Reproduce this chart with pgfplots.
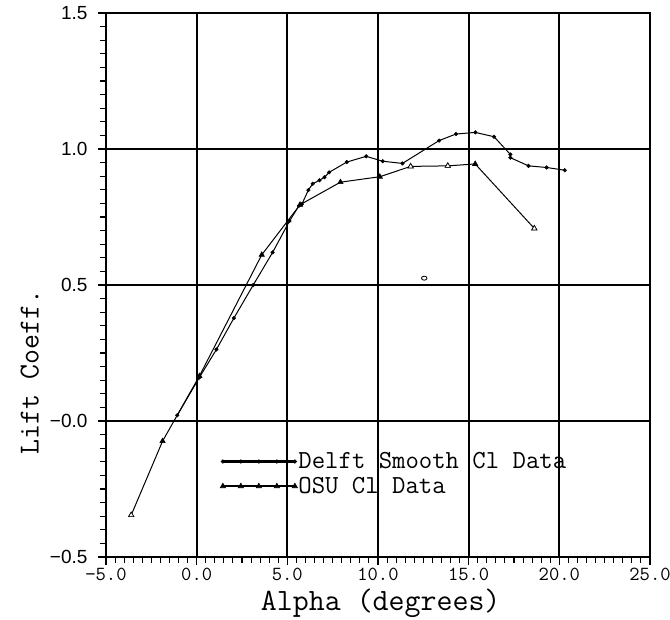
\documentclass[border=0pt]{standalone}
\usepackage{fontspec}
\usepackage{pgfplots}
\pgfplotsset{compat=1.18}
\newfontfamily\ysans{Liberation Sans}
\pgfplotstableread{
x y
-1.07 0.021
0.15 0.160
1.09 0.263
2.05 0.378
3.12 0.500
4.19 0.620
5.12 0.735
5.65 0.792
5.80 0.797
6.16 0.849
6.40 0.872
6.77 0.885
7.05 0.896
7.30 0.914
8.28 0.952
9.35 0.973
10.26 0.955
11.35 0.947
13.37 1.031
14.30 1.055
15.37 1.061
16.40 1.045
17.30 0.980
17.30 0.968
18.30 0.938
19.30 0.932
20.30 0.922
}\delft
\pgfplotstableread{
x y
-3.61 -0.346
-1.88 -0.074
0.15 0.165
3.59 0.611
5.70 0.795
7.93 0.878
10.10 0.898
11.80 0.936
13.85 0.938
15.36 0.945
18.62 0.708
}\osu
\begin{document}
\begin{tikzpicture}
\useasboundingbox (-106pt,-63pt) rectangle (564pt,557pt);
\begin{axis}[
 scale only axis, width=544pt, height=544pt,
 xmin=-5, xmax=25, ymin=-0.5, ymax=1.5,
 xtick={-5,0,5,10,15,20,25}, ytick={-0.5,0,0.5,1,1.5},
 xticklabels={−5.0,0.0,5.0,10.0,15.0,20.0,25.0},
 yticklabels={−0.5,−0.0,0.5,1.0,1.5},
 minor x tick num=9, minor y tick num=9,
 xtick pos=left, ytick pos=left,
 tick align=outside,
 major tick length=8pt, minor tick length=6pt,
 every tick/.style={black, line width=1.1pt},
 grid=major, major grid style={black, line width=2pt},
 axis line style={black, line width=2pt},
 xticklabel style={font=\ttfamily\fontsize{20}{20}\selectfont, yshift=0pt},
 yticklabel style={font=\ysans\fontsize{19}{19}\selectfont, xshift=-7pt},
 xlabel={Alpha (degrees)}, ylabel={Lift Coeff.},
 xlabel style={font=\ttfamily\fontsize{31}{31}\selectfont, at={(axis description cs:0.505,-0.085)}, anchor=center},
 ylabel style={font=\ttfamily\fontsize{29}{29}\selectfont, at={(axis description cs:-0.14,0.34)}, anchor=center},
 legend cell align=left,
 legend style={draw=none, fill=none, at={(axis cs:1.29,-0.112)}, anchor=north west,
   font=\ttfamily\fontsize{26}{26}\selectfont, inner sep=0pt, row sep=5pt, nodes={inner sep=1pt}},
 legend image code/.code={\draw[#1, line width=2.2pt] plot coordinates {(0pt,0pt) (18pt,0pt) (36pt,0pt) (54pt,0pt) (72pt,0pt)};},
]
\addplot[black, line width=1pt, mark=*, mark size=1.8pt, mark options={solid, line width=0.5pt}] table[x=x,y=y] {\delft};
\addlegendentry{Delft Smooth Cl Data}
\addplot[black, line width=1pt, mark=triangle*, mark size=3pt, mark options={solid, line width=0.6pt}] table[x=x,y=y] {\osu};
\addlegendentry{OSU Cl Data}
\addplot[only marks, mark=triangle*, mark size=3pt, mark options={fill=white, draw=black, line width=0.7pt}, forget plot] coordinates {(-3.61,-0.346) (11.80,0.936) (13.85,0.938) (18.62,0.708)};
\addplot[only marks, mark=o, mark size=2pt, mark options={black, line width=0.8pt, xscale=1.4}, forget plot] coordinates {(12.55,0.525)};
\end{axis}
\end{tikzpicture}
\end{document}
